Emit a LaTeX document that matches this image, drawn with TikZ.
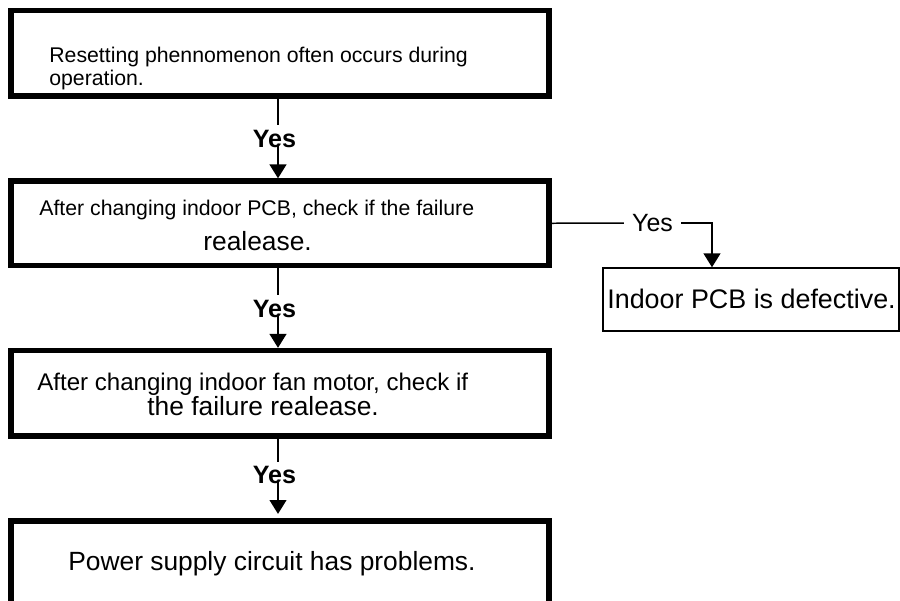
\documentclass[tikz,border=0pt]{standalone}
\usepackage{fontspec}
\setmainfont{Liberation Sans}
\usetikzlibrary{arrows.meta}

\begin{document}
\begin{tikzpicture}[x=0.02cm, y=-0.02cm,
  stepbox/.style={draw, line width=3.1pt, minimum width=10.76cm, minimum height=1.71cm, inner sep=0pt},
  endbox/.style={draw, line width=0.85pt, minimum width=5.92cm, minimum height=1.26cm, inner sep=0pt},
  txt/.style={anchor=base west, inner sep=0pt},
  yeslbl/.style={anchor=base, inner sep=0pt, font=\fontsize{14.3}{16}\selectfont\bfseries},
  link/.style={line width=0.85pt},
  arr/.style={line width=0.85pt, -{Triangle[length=7.9pt, width=9.6pt]}}]
  \useasboundingbox (0,0) rectangle (900,600);
  \clip (0,0) rectangle (900,600);

  % boxes
  \node[stepbox] (box1) at (280,53.25) {};
  \node[stepbox, minimum height=1.69cm] (box2) at (280,223.25) {};
  \node[stepbox] (box3) at (280,393.25) {};
  \node[stepbox, minimum height=1.70cm] (box4) at (280,563.5) {};
  \node[endbox] (pcb) at (751,299.5) {};

  % texts
  \node[txt, font=\fontsize{12.1}{14}\selectfont] (t1a) at (49,62) {Resetting phennomenon often occurs during};
  \node[txt, font=\fontsize{12.1}{14}\selectfont] (t1b) at (49,85) {operation.};
  \node[txt, font=\fontsize{12.1}{14}\selectfont] (t2a) at (39,215) {After changing indoor PCB, check if the failure};
  \node[txt, font=\fontsize{15}{17}\selectfont] (t2b) at (203,250) {realease.};
  \node[txt, font=\fontsize{13.7}{16}\selectfont] (t3a) at (37,390) {After changing indoor fan motor, check if};
  \node[txt, font=\fontsize{15}{17}\selectfont] (t3b) at (147,415) {the failure realease.};
  \node[txt, font=\fontsize{15}{17}\selectfont] (t4) at (68,570) {Power supply circuit has problems.};
  \node[txt, font=\fontsize{15.3}{17}\selectfont] (t5) at (607,308) {Indoor PCB is defective.};

  % main line
  \coordinate (c1) at (278,125);
  \coordinate (a1) at (278,146);
  \node[yeslbl] (y1) at (274.5,147) {Yes};
  \draw[link] (c1 |- box1.south) -- (c1);
  \draw[arr] (a1) -- (a1 |- box2.north);

  \coordinate (c2) at (278,295);
  \coordinate (a2) at (278,316);
  \node[yeslbl] (y2) at (274.5,317) {Yes};
  \draw[link] (c2 |- box2.south) -- (c2);
  \draw[arr] (a2) -- (a2 |- box3.north);

  \coordinate (c3) at (278,462);
  \coordinate (a3) at (278,482);
  \node[yeslbl] (y3) at (274.5,483) {Yes};
  \draw[link] (c3 |- box3.south) -- (c3);
  \draw[arr, shorten >=2.5pt] (a3) -- (a3 |- box4.north);

  % side branch
  \node[anchor=base, inner sep=4.5pt, font=\fontsize{14.2}{16}\selectfont] (yr) at (652.5,231.5) {Yes};
  \coordinate (bend) at (712,222);
  \draw[link] (box2.east) -- (yr.west);
  \draw[arr] (yr.east) -| (bend |- pcb.north);
\end{tikzpicture}
\end{document}
